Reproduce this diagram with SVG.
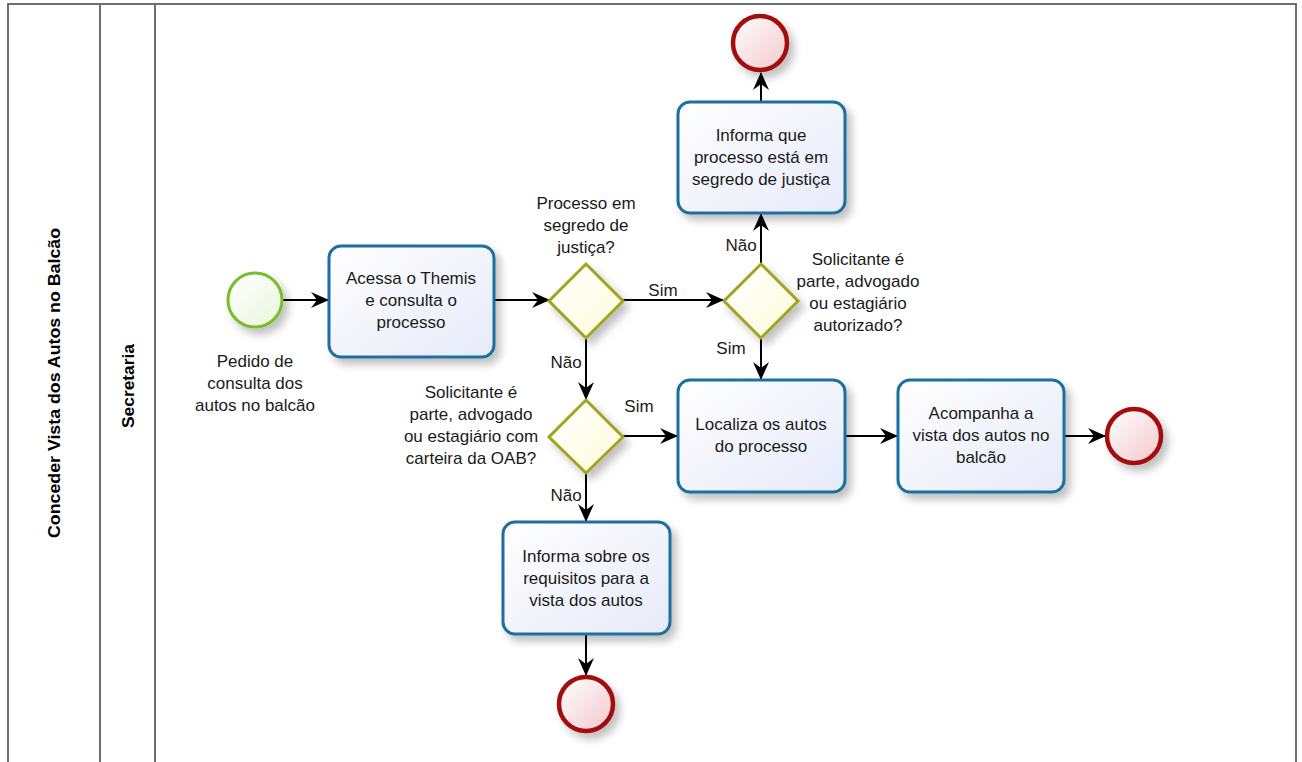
<svg xmlns="http://www.w3.org/2000/svg" width="1302" height="762" viewBox="0 0 1302 762">
<style>
.lane{fill:none;stroke:#6e6e6e;stroke-width:2}
.task{fill:url(#gTask);stroke:#1d6fa0;stroke-width:3}
.gw{fill:url(#gGw);stroke:#a3a322;stroke-width:3}
.end{fill:url(#gEnd);stroke:#a30d0d;stroke-width:4.5}
.start{fill:url(#gStart);stroke:#79bd2c;stroke-width:3}
.t{font-family:"Liberation Sans",Arial,sans-serif;font-size:17px;fill:#1a1a1a;text-anchor:middle}
.hdr{font-family:"Liberation Sans Narrow","Liberation Sans",Arial,sans-serif;font-size:17px;font-weight:bold;fill:#000;text-anchor:middle}
.c{fill:none;stroke:#000;stroke-width:2}
</style>
<defs>
<linearGradient id="gTask" x1="0" y1="0" x2="1" y2="1"><stop offset="0" stop-color="#ffffff"/><stop offset="1" stop-color="#e6eaf9"/></linearGradient>
<linearGradient id="gGw" x1="0" y1="0" x2="1" y2="1"><stop offset="0" stop-color="#ffffff"/><stop offset="1" stop-color="#fbfbd8"/></linearGradient>
<linearGradient id="gEnd" x1="0" y1="0" x2="1" y2="1"><stop offset="0" stop-color="#ffffff"/><stop offset="1" stop-color="#f2c8cc"/></linearGradient>
<linearGradient id="gStart" x1="0" y1="0" x2="1" y2="1"><stop offset="0" stop-color="#ffffff"/><stop offset="1" stop-color="#eaf6dc"/></linearGradient>
<filter id="sh" x="-30%" y="-30%" width="170%" height="170%"><feGaussianBlur in="SourceAlpha" stdDeviation="4"/><feOffset dx="5" dy="6" result="b"/><feComponentTransfer><feFuncA type="linear" slope="0.25"/></feComponentTransfer><feMerge><feMergeNode/><feMergeNode in="SourceGraphic"/></feMerge></filter>
<marker id="arr" viewBox="0 0 18 18" refX="17" refY="9" markerWidth="18" markerHeight="18" markerUnits="userSpaceOnUse" orient="auto"><path d="M0,1 L18,9 L0,17 L6,9 Z" fill="#000"/></marker>
</defs>
<g id="pool">
<rect class="lane" x="8" y="4" width="1288" height="780" stroke="#555"/>
<line class="lane" x1="100" y1="4" x2="100" y2="762"/>
<line class="lane" x1="155" y1="4" x2="155" y2="762"/>
<text class="hdr" transform="translate(60,383) rotate(-90)" textLength="310" lengthAdjust="spacingAndGlyphs">Conceder Vista dos Autos no Balcão</text>
<text class="hdr" transform="translate(134,386) rotate(-90)" textLength="84" lengthAdjust="spacingAndGlyphs">Secretaria</text>
</g>
<g id="connectors">
<line class="c" x1="283" y1="300" x2="328" y2="300" marker-end="url(#arr)"/>
<line class="c" x1="495" y1="300" x2="549" y2="300" marker-end="url(#arr)"/>
<line class="c" x1="623" y1="300" x2="723" y2="300" marker-end="url(#arr)"/>
<line class="c" x1="761" y1="265" x2="761" y2="214" marker-end="url(#arr)"/>
<line class="c" x1="761" y1="102" x2="761" y2="73" marker-end="url(#arr)"/>
<line class="c" x1="761" y1="338" x2="761" y2="379" marker-end="url(#arr)"/>
<line class="c" x1="586" y1="338" x2="586" y2="399" marker-end="url(#arr)"/>
<line class="c" x1="623" y1="436" x2="677" y2="436" marker-end="url(#arr)"/>
<line class="c" x1="586" y1="472" x2="586" y2="521" marker-end="url(#arr)"/>
<line class="c" x1="586" y1="635" x2="586" y2="675" marker-end="url(#arr)"/>
<line class="c" x1="846" y1="436" x2="897" y2="436" marker-end="url(#arr)"/>
<line class="c" x1="1065" y1="436" x2="1105" y2="436" marker-end="url(#arr)"/>
<text class="t" x="663" y="296">Sim</text>
<text class="t" x="741" y="251">Não</text>
<text class="t" x="731" y="354">Sim</text>
<text class="t" x="566" y="368">Não</text>
<text class="t" x="639" y="412">Sim</text>
<text class="t" x="566" y="501">Não</text>
</g>
<g id="start">
<circle class="start" cx="255" cy="300" r="27" filter="url(#sh)"/>
<text class="t" x="255" y="367">Pedido de</text>
<text class="t" x="255" y="389">consulta dos</text>
<text class="t" x="255" y="411">autos no balcão</text>
</g>
<g id="task-acessa">
<rect class="task" x="329" y="246" width="165" height="111" rx="12" filter="url(#sh)"/>
<text class="t" x="411" y="284">Acessa o Themis</text>
<text class="t" x="411" y="306">e consulta o</text>
<text class="t" x="411" y="328">processo</text>
</g>
<g id="gw-segredo">
<polygon class="gw" points="586,264 623,301 586,338 549,301" filter="url(#sh)"/>
<text class="t" x="586" y="209">Processo em</text>
<text class="t" x="586" y="231">segredo de</text>
<text class="t" x="586" y="253">justiça?</text>
</g>
<g id="gw-autorizado">
<polygon class="gw" points="761,264 798,301 761,338 724,301" filter="url(#sh)"/>
<text class="t" x="858" y="265">Solicitante é</text>
<text class="t" x="858" y="287">parte, advogado</text>
<text class="t" x="858" y="309">ou estagiário</text>
<text class="t" x="858" y="331">autorizado?</text>
</g>
<g id="task-informa-segredo">
<rect class="task" x="678" y="102" width="167" height="111" rx="12" filter="url(#sh)"/>
<text class="t" x="761" y="141">Informa que</text>
<text class="t" x="761" y="163">processo está em</text>
<text class="t" x="761" y="185">segredo de justiça</text>
</g>
<g id="end-top">
<circle class="end" cx="760" cy="43" r="27" filter="url(#sh)"/>
</g>
<g id="gw-oab">
<polygon class="gw" points="586,400 623,437 586,473 549,437" filter="url(#sh)"/>
<text class="t" x="471" y="398">Solicitante é</text>
<text class="t" x="471" y="420">parte, advogado</text>
<text class="t" x="471" y="442">ou estagiário com</text>
<text class="t" x="471" y="464">carteira da OAB?</text>
</g>
<g id="task-localiza">
<rect class="task" x="678" y="380" width="167" height="112" rx="12" filter="url(#sh)"/>
<text class="t" x="761" y="430">Localiza os autos</text>
<text class="t" x="761" y="452">do processo</text>
</g>
<g id="task-acompanha">
<rect class="task" x="898" y="380" width="166" height="112" rx="12" filter="url(#sh)"/>
<text class="t" x="981" y="419">Acompanha a</text>
<text class="t" x="981" y="441">vista dos autos no</text>
<text class="t" x="981" y="463">balcão</text>
</g>
<g id="end-right">
<circle class="end" cx="1134" cy="436" r="27" filter="url(#sh)"/>
</g>
<g id="task-informa-requisitos">
<rect class="task" x="503" y="522" width="167" height="112" rx="12" filter="url(#sh)"/>
<text class="t" x="586" y="562">Informa sobre os</text>
<text class="t" x="586" y="584">requisitos para a</text>
<text class="t" x="586" y="606">vista dos autos</text>
</g>
<g id="end-bottom">
<circle class="end" cx="586" cy="704" r="27" filter="url(#sh)"/>
</g>
</svg>
